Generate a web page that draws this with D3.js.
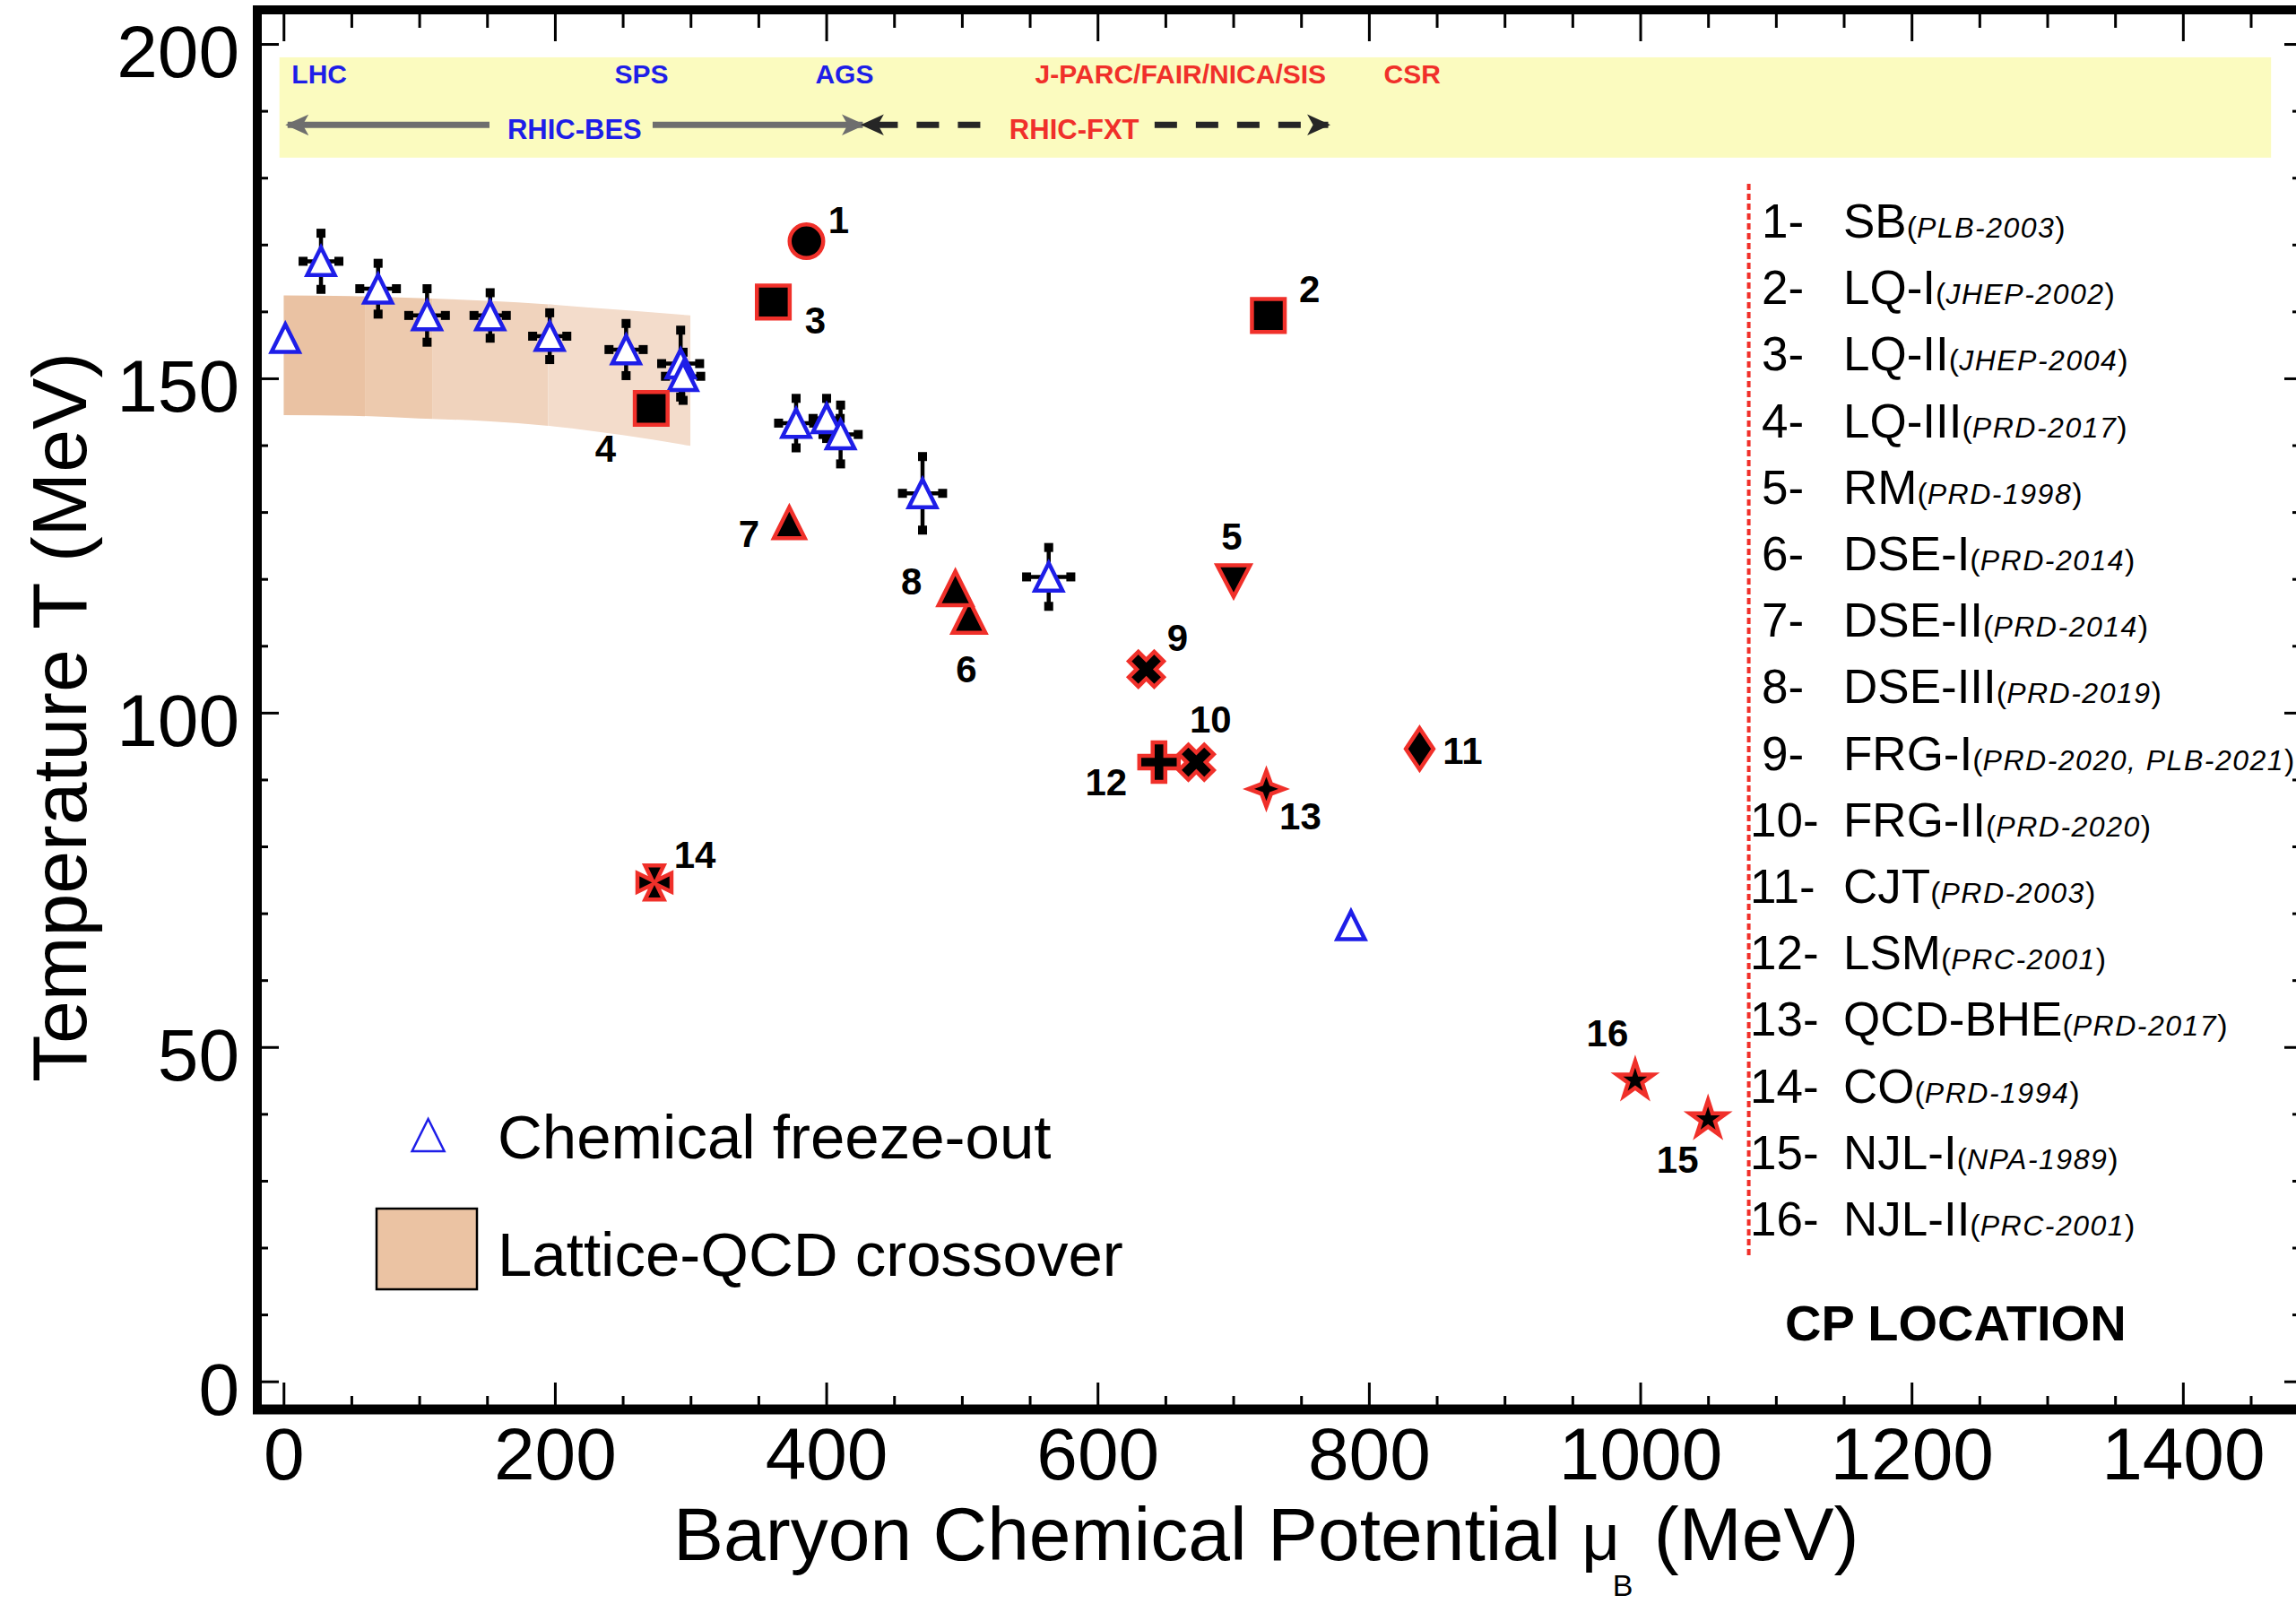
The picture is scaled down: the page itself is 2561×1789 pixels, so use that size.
<!DOCTYPE html>
<html>
<head>
<meta charset="utf-8">
<script src="https://cdn.jsdelivr.net/npm/d3@7"></script>
<style>
  body { margin: 0; background: #fff; }
  svg { display: block; font-family: "Liberation Sans", Arial, Helvetica, sans-serif; }
</style>
</head>
<body>
<script>
// ---- data ----

// chemical freeze-out points: muB, T and their errors (MeV)
const foMu    = [1.3, 27.6, 69.7, 105.8, 152.3, 196.2, 252.5, 292.7, 294.5, 377.8, 400.3, 410.6, 471.0, 564.0, 786.8];
const foT     = [156.0, 167.5, 163.4, 159.4, 159.4, 156.3, 154.3, 152.2, 150.3, 143.3, 144.0, 141.6, 132.8, 120.3, 68.2];
const foMuErr = [0, 13.2, 13.5, 13.5, 11.9, 12.6, 12.6, 14.0, 13.0, 12.9, 10.0, 13.0, 14.8, 16.3, 0];
const foTErr  = [0, 4.2, 3.8, 4.0, 3.4, 3.5, 3.9, 5.0, 3.6, 3.7, 3.0, 4.4, 5.5, 4.4, 0];

// critical point predictions
const cpId    = [1, 2, 3, 4, 5, 6, 7, 8, 9, 10, 11, 12, 13, 14, 15, 16];
const cpMu    = [385.4, 725.9, 361.0, 271.0, 700.3, 505.3, 372.8, 495.2, 635.9, 672.8, 837.4, 645.3, 724.4, 273.4, 1050.0, 996.3];
const cpT     = [170.5, 159.4, 161.4, 145.5, 119.7, 114.4, 128.4, 118.6, 106.5, 92.6, 94.6, 92.6, 88.6, 74.6, 39.2, 45.0];
const cpModel = ["SB", "LQ-I", "LQ-II", "LQ-III", "RM", "DSE-I", "DSE-II", "DSE-III",
                 "FRG-I", "FRG-II", "CJT", "LSM", "QCD-BHE", "CO", "NJL-I", "NJL-II"];
const cpRef   = ["PLB-2003", "JHEP-2002", "JHEP-2004", "PRD-2017", "PRD-1998", "PRD-2014", "PRD-2014", "PRD-2019",
                 "PRD-2020, PLB-2021", "PRD-2020", "PRD-2003", "PRC-2001", "PRD-2017", "PRD-1994", "NPA-1989", "PRC-2001"];

// lattice QCD crossover band
const bandMu    = [0, 50, 100, 150, 200, 250, 300];
const bandLow   = [144.5, 144.4, 144.0, 143.6, 142.8, 141.5, 139.9];
const bandHigh  = [162.4, 162.3, 162.0, 161.6, 161.0, 160.2, 159.4];
const bandSplit = [0, 60, 110, 195, 300];

// facilities and programs along the top
const facName   = ["LHC", "SPS", "AGS", "J-PARC/FAIR/NICA/SIS", "CSR"];
const facMu     = [6, 244, 392, 554, 811];
const progName  = ["RHIC-BES", "RHIC-FXT"];
const progFrom  = [3, 427];
const progTo    = [427, 770];
const progLabel = [165, 535];

// axes
const xTicks = [0, 200, 400, 600, 800, 1000, 1200, 1400];
const yTicks = [0, 50, 100, 150, 200];
const cpLineMu = 1080;

// ---- drawing ----
const W = 2561, H = 1789;
const svg = d3.select("body").append("svg")
  .attr("width", W).attr("height", H)
  .style("background", "#fff");

const x = d3.scaleLinear().domain([-20, 1488]).range([286, 2568]);
const y = d3.scaleLinear().domain([-4.2, 205.1]).range([1572, 11]);

const blue = "#1e1ee8", red = "#f0302a";

// yellow facility strip
svg.append("rect")
  .attr("x", x(-3)).attr("y", y(198))
  .attr("width", x(1465) - x(-3)).attr("height", y(183) - y(198))
  .attr("fill", "#fbfbbf");

svg.selectAll("text.fac")
  .data(facName)
  .enter().append("text")
    .attr("class", "fac")
    .attr("x", (d, i) => x(facMu[i]))
    .attr("y", y(194.1))
    .attr("font-size", 30).attr("font-weight", "bold")
    .attr("fill", (d, i) => i < 3 ? blue : red)
    .text(d => d);

// arrows for the RHIC programs
const defs = svg.append("defs");
function arrowHead(id, color) {
  defs.append("marker")
    .attr("id", id).attr("viewBox", "0 0 10 10")
    .attr("refX", 9).attr("refY", 5)
    .attr("markerUnits", "userSpaceOnUse")
    .attr("markerWidth", 26).attr("markerHeight", 26)
    .attr("orient", "auto-start-reverse")
    .append("path").attr("d", "M0,0.5 L10,5 L0,9.5 L2.5,5 Z").attr("fill", color);
}
arrowHead("arrGray", "#6e6e6e");
arrowHead("arrDark", "#262626");

const yArrow = y(187.9);
// BES: solid gray, broken around its label
svg.append("line")
  .attr("x1", x(progFrom[0])).attr("x2", x(progLabel[0]) - 20)
  .attr("y1", yArrow).attr("y2", yArrow)
  .attr("stroke", "#6e6e6e").attr("stroke-width", 7)
  .attr("marker-start", "url(#arrGray)");
svg.append("line")
  .attr("x1", x(progLabel[0]) + 162).attr("x2", x(progTo[0]))
  .attr("y1", yArrow).attr("y2", yArrow)
  .attr("stroke", "#6e6e6e").attr("stroke-width", 7)
  .attr("marker-end", "url(#arrGray)");
// FXT: dashed dark
svg.append("line")
  .attr("x1", x(progFrom[1])).attr("x2", x(progLabel[1]) - 20)
  .attr("y1", yArrow).attr("y2", yArrow)
  .attr("stroke", "#262626").attr("stroke-width", 7)
  .attr("stroke-dasharray", "25 21").attr("stroke-dashoffset", -14)
  .attr("marker-start", "url(#arrDark)");
svg.append("line")
  .attr("x1", x(progLabel[1]) + 162).attr("x2", x(progTo[1]))
  .attr("y1", yArrow).attr("y2", yArrow)
  .attr("stroke", "#262626").attr("stroke-width", 7)
  .attr("stroke-dasharray", "25 21")
  .attr("marker-end", "url(#arrDark)");

svg.selectAll("text.prog")
  .data(progName)
  .enter().append("text")
    .attr("class", "prog")
    .attr("x", (d, i) => x(progLabel[i]))
    .attr("y", y(185.8))
    .attr("font-size", 31).attr("font-weight", "bold")
    .attr("fill", (d, i) => i == 0 ? blue : red)
    .text(d => d);

// lattice band, shaded in four steps
const bandColors = ["#eac2a3", "#edcaae", "#f0d3bd", "#f3dccb"];
const band = bandMu.map((m, i) => ({ mu: m, lo: bandLow[i], hi: bandHigh[i] }));
const area = d3.area()
  .x(d => x(d.mu)).y0(d => y(d.lo)).y1(d => y(d.hi))
  .curve(d3.curveMonotoneX);
for (let i = 0; i < bandSplit.length - 1; i++) {
  defs.append("clipPath").attr("id", "seg" + i)
    .append("rect")
      .attr("x", x(bandSplit[i])).attr("width", x(bandSplit[i + 1]) - x(bandSplit[i]))
      .attr("y", 0).attr("height", H);
  svg.append("path")
    .datum(band)
    .attr("d", area)
    .attr("fill", bandColors[i])
    .attr("clip-path", `url(#seg${i})`);
}

// red dotted separator for the CP list
svg.append("line")
  .attr("x1", x(cpLineMu)).attr("x2", x(cpLineMu))
  .attr("y1", y(179.1)).attr("y2", y(18.6))
  .attr("stroke", red).attr("stroke-width", 4)
  .attr("stroke-dasharray", "7 4");

// marker shapes
function poly(c, pts) {
  c.moveTo(pts[0][0], pts[0][1]);
  pts.slice(1).forEach(p => c.lineTo(p[0], p[1]));
  c.closePath();
}
function plusPts(r, w) {
  return [[-w, -r], [w, -r], [w, -w], [r, -w], [r, w], [w, w], [w, r], [-w, r], [-w, w], [-r, w], [-r, -w], [-w, -w]];
}
const shapes = {
  circle:  { draw(c, s) { const r = Math.sqrt(s); c.moveTo(r, 0); c.arc(0, 0, r, 0, 2 * Math.PI); } },
  square:  { draw(c, s) { const r = Math.sqrt(s); c.rect(-r, -r, 2 * r, 2 * r); } },
  triUp:   { draw(c, s) { const r = Math.sqrt(s); poly(c, [[0, -r], [r, r], [-r, r]]); } },
  triDown: { draw(c, s) { const r = Math.sqrt(s); poly(c, [[0, r], [-1.05 * r, -r], [1.05 * r, -r]]); } },
  diamond: { draw(c, s) { const r = Math.sqrt(s); poly(c, [[0, -r], [0.67 * r, 0], [0, r], [-0.67 * r, 0]]); } },
  plus:    { draw(c, s) { const r = Math.sqrt(s); poly(c, plusPts(r, 0.32 * r)); } },
  times:   { draw(c, s) {
    const r = Math.sqrt(s), k = Math.SQRT1_2;
    poly(c, plusPts(r, 0.375 * r).map(p => [(p[0] - p[1]) * k, (p[0] + p[1]) * k]));
  } },
  star4:   { draw(c, s) {
    const r = Math.sqrt(s), a = 0.27 * r;
    poly(c, [[0, -r], [a, -a], [r, 0], [a, a], [0, r], [-a, a], [-r, 0], [-a, -a]]);
  } },
  star5:   { draw(c, s) {
    const r = Math.sqrt(s), pts = [];
    for (let k = 0; k < 10; k++) {
      const ang = -Math.PI / 2 + k * Math.PI / 5, rr = k % 2 ? 0.382 * r : r;
      pts.push([rr * Math.cos(ang), rr * Math.sin(ang)]);
    }
    poly(c, pts);
  } },
  maltese: { draw(c, s) {
    const r = Math.sqrt(s), a = 0.55 * r, m = 0.12 * r;
    poly(c, [[-a, -r], [a, -r], [m, -m], [r, -a], [r, a], [m, m], [a, r], [-a, r], [-m, m], [-r, a], [-r, -a], [-m, -m]]);
  } }
};

// error bars for the freeze-out points
const fo = foMu.map((m, i) => ({ mu: m, t: foT[i], dm: foMuErr[i], dt: foTErr[i] }))
const foErr = fo.filter(d => d.dt > 0);
const eb = svg.append("g").attr("stroke", "#000").attr("stroke-width", 4.5);
eb.selectAll("line.v").data(foErr).enter().append("line")
  .attr("x1", d => x(d.mu)).attr("x2", d => x(d.mu))
  .attr("y1", d => y(d.t - d.dt)).attr("y2", d => y(d.t + d.dt));
eb.selectAll("line.h").data(foErr).enter().append("line")
  .attr("x1", d => x(d.mu - d.dm)).attr("x2", d => x(d.mu + d.dm))
  .attr("y1", d => y(d.t)).attr("y2", d => y(d.t));
const caps = [];
foErr.forEach(d => {
  caps.push([x(d.mu), y(d.t - d.dt)], [x(d.mu), y(d.t + d.dt)],
            [x(d.mu - d.dm), y(d.t)], [x(d.mu + d.dm), y(d.t)]);
});
svg.append("g").selectAll("rect").data(caps).enter().append("rect")
  .attr("x", d => d[0] - 5).attr("y", d => d[1] - 5)
  .attr("width", 10).attr("height", 10).attr("fill", "#000");

// freeze-out triangles
svg.append("g").selectAll("path").data(fo).enter().append("path")
  .attr("transform", d => `translate(${x(d.mu)},${y(d.t)})`)
  .attr("d", d3.symbol(shapes.triUp, 15.4 * 15.4))
  .attr("fill", "#fff").attr("stroke", blue).attr("stroke-width", 4.5);

// CP markers (shape, half size) and number label offsets in px
const cpStyle = [
  ["circle", 18.75], ["square", 18.3], ["square", 18.3], ["square", 18.3],
  ["triDown", 17.5], ["triUp", 18.3], ["triUp", 17.3], ["triUp", 18.8],
  ["times", 20], ["times", 20], ["diamond", 23], ["plus", 22],
  ["star4", 20], ["maltese", 19], ["star5", 21.6], ["star5", 21.6]
];
const cpLabelOff = [
  [36, -24], [46, -30], [47, 20], [-51, 44], [-2, -50], [-3, 59], [-45, 12], [-49, -8],
  [35, -35], [16, -48], [48, 2], [-59, 22], [38, 30], [45, -31], [-34, 45], [-31, -53]
];
const cp = cpId.map((id, i) => ({ id: id, mu: cpMu[i], t: cpT[i] }));

svg.append("g").selectAll("path").data(cp).enter().append("path")
  .attr("transform", d => `translate(${x(d.mu)},${y(d.t)})`)
  .attr("d", (d, i) => d3.symbol(shapes[cpStyle[i][0]], cpStyle[i][1] * cpStyle[i][1])())
  .attr("fill", "#000").attr("stroke", red).attr("stroke-width", 4.5)
  .attr("stroke-miterlimit", 10);

svg.append("g").selectAll("text").data(cp).enter().append("text")
  .attr("x", (d, i) => x(d.mu) + cpLabelOff[i][0])
  .attr("y", (d, i) => y(d.t) + cpLabelOff[i][1] + 15)
  .attr("text-anchor", "middle")
  .attr("font-size", 42).attr("font-weight", "bold")
  .text(d => d.id);

// CP list on the right
const rowY = i => 265 + i * 74.2;
const list = svg.append("g");
cpModel.forEach((name, i) => {
  list.append("text")
    .attr("x", i < 9 ? 1965 : 1952).attr("y", rowY(i))
    .attr("font-size", 53)
    .text(cpId[i] + "-");
  const t = list.append("text")
    .attr("x", 2056).attr("y", rowY(i))
    .attr("font-size", 53);
  t.append("tspan").text(name);
  t.append("tspan").attr("font-size", 34).text("(");
  t.append("tspan").attr("font-size", 32).attr("font-style", "italic")
    .attr("letter-spacing", 1.5).text(cpRef[i]);
  t.append("tspan").attr("font-size", 34).text(")");
});
svg.append("text")
  .attr("x", 1991).attr("y", 1495)
  .attr("font-size", 56).attr("font-weight", "bold")
  .text("CP LOCATION");

// legend, lower left
svg.append("path")
  .attr("transform", "translate(477.6,1266)")
  .attr("d", d3.symbol(shapes.triUp, 18 * 18))
  .attr("fill", "none").attr("stroke", blue).attr("stroke-width", 2.5);
svg.append("text")
  .attr("x", 555).attr("y", 1291.7).attr("font-size", 69)
  .text("Chemical freeze-out");
svg.append("rect")
  .attr("x", 420).attr("y", 1348).attr("width", 112).attr("height", 90)
  .attr("fill", "#ebc3a3").attr("stroke", "#000").attr("stroke-width", 2.5);
svg.append("text")
  .attr("x", 555).attr("y", 1423).attr("font-size", 69)
  .text("Lattice-QCD crossover");

// ---- axes (ticks point inwards) ----
const xMinor = d3.range(-0, 1488, 50).filter(v => v % 200 != 0);
const yMinor = d3.range(0, 205, 10).filter(v => v % 50 != 0);

function styleAxis(g, size) {
  g.select(".domain").remove();
  g.selectAll(".tick line").attr("stroke", "#000").attr("stroke-width", 3);
  g.attr("font-size", size).attr("font-family", null);
  g.selectAll(".tick text").attr("fill", "#000");
}

svg.append("g").attr("transform", "translate(0,1572)")
  .call(d3.axisBottom(x).tickValues(xTicks).tickSize(-30).tickPadding(20).tickFormat(d3.format("d")))
  .call(g => styleAxis(g, 82));
svg.append("g").attr("transform", "translate(0,1572)")
  .call(d3.axisBottom(x).tickValues(xMinor).tickSize(-15).tickFormat(""))
  .call(g => styleAxis(g, 10));
svg.append("g").attr("transform", "translate(0,11)")
  .call(d3.axisTop(x).tickValues(xTicks).tickSize(-35).tickFormat(""))
  .call(g => styleAxis(g, 10));
svg.append("g").attr("transform", "translate(0,11)")
  .call(d3.axisTop(x).tickValues(xMinor).tickSize(-20).tickFormat(""))
  .call(g => styleAxis(g, 10));

svg.append("g").attr("transform", "translate(287,0)")
  .call(d3.axisLeft(y).tickValues(yTicks).tickSize(-24).tickPadding(20).tickFormat(d3.format("d")))
  .call(g => styleAxis(g, 82))
  .call(g => g.selectAll(".tick text").attr("dy", "0.45em"));
svg.append("g").attr("transform", "translate(287,0)")
  .call(d3.axisLeft(y).tickValues(yMinor).tickSize(-12).tickFormat(""))
  .call(g => styleAxis(g, 10));
svg.append("g").attr("transform", "translate(2566,0)")
  .call(d3.axisRight(y).tickValues(yTicks).tickSize(-18).tickFormat(""))
  .call(g => styleAxis(g, 10));
svg.append("g").attr("transform", "translate(2566,0)")
  .call(d3.axisRight(y).tickValues(yMinor).tickSize(-9).tickFormat(""))
  .call(g => styleAxis(g, 10));

// frame
const frame = svg.append("g").attr("stroke", "#000").attr("fill", "none");
frame.append("line").attr("x1", 287).attr("x2", 287).attr("y1", 6).attr("y2", 1577).attr("stroke-width", 10);
frame.append("line").attr("x1", 282).attr("x2", 2570).attr("y1", 1572).attr("y2", 1572).attr("stroke-width", 11);
frame.append("line").attr("x1", 282).attr("x2", 2570).attr("y1", 11).attr("y2", 11).attr("stroke-width", 10);
frame.append("line").attr("x1", 2566).attr("x2", 2566).attr("y1", 6).attr("y2", 1577).attr("stroke-width", 10);

// axis titles
svg.append("text")
  .attr("transform", "translate(96,800) rotate(-90)")
  .attr("text-anchor", "middle").attr("font-size", 86)
  .text("Temperature T (MeV)");

const xt = svg.append("text").attr("x", 751).attr("y", 1740).attr("font-size", 84);
xt.append("tspan").text("Baryon Chemical Potential ");
xt.append("tspan").attr("font-size", 74).text("μ");
xt.append("tspan").attr("font-size", 34).attr("dy", 40).attr("dx", -8).text("B");
xt.append("tspan").attr("dy", -40).text(" (MeV)");
</script>
</body>
</html>
